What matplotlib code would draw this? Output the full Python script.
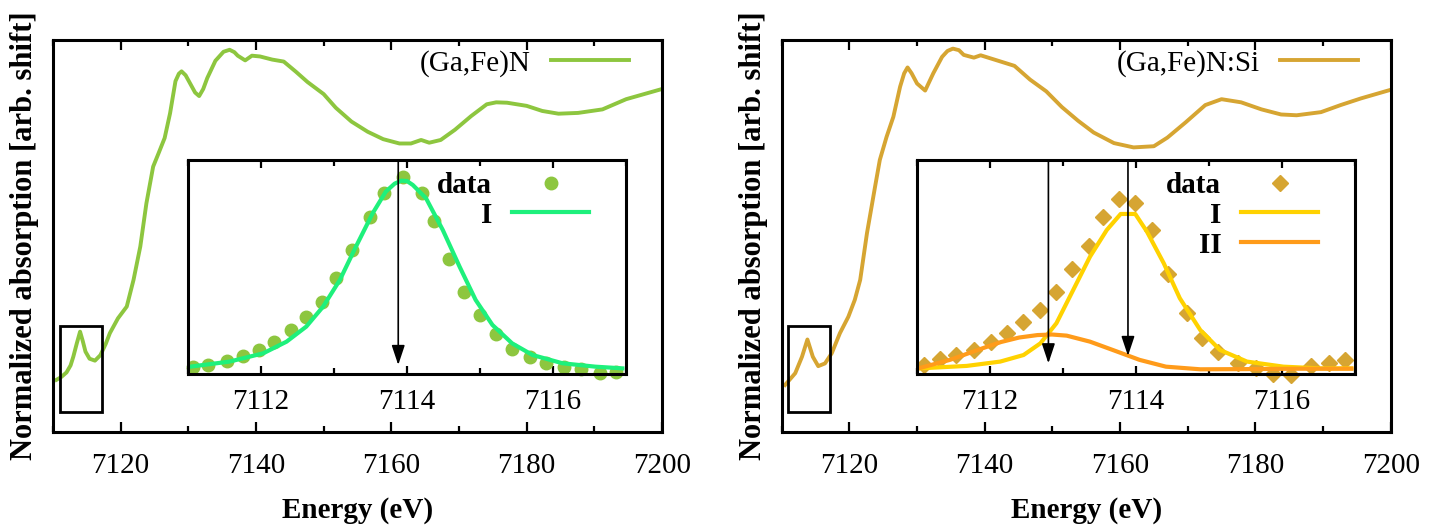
import numpy as np
import matplotlib.pyplot as plt
from matplotlib.ticker import MultipleLocator
from matplotlib.patches import Rectangle

plt.rcParams['font.family'] = ['Liberation Serif', 'DejaVu Serif']

# ---- XANES spectra (main panels), normalised absorption with arbitrary shift
e_gafen = [7110.5, 7111.2, 7112.0, 7112.6, 7113.0, 7113.5, 7114.0, 7114.4, 7114.8,
           7115.4, 7116.2, 7117.0, 7117.8, 7118.4, 7119.6, 7120.9, 7121.9, 7122.9,
           7123.8, 7124.8, 7125.6, 7126.5, 7127.3, 7128.1, 7128.6, 7129.0, 7129.6,
           7130.3, 7131.0, 7131.6, 7132.2, 7132.8, 7134.0, 7135.2, 7136.1, 7136.8,
           7137.3, 7138.4, 7139.4, 7140.6, 7142.4, 7144.1, 7145.9, 7147.6, 7150.0,
           7151.8, 7154.1, 7156.5, 7158.8, 7161.2, 7162.9, 7164.4, 7165.6, 7167.3,
           7169.4, 7171.8, 7174.1, 7175.5, 7177.1, 7180.0, 7182.3, 7184.7, 7187.6,
           7191.2, 7194.7, 7200.0]
mu_gafen = [0.133, 0.140, 0.152, 0.170, 0.192, 0.225, 0.256, 0.232, 0.205,
            0.187, 0.182, 0.196, 0.225, 0.252, 0.290, 0.320, 0.388, 0.473,
            0.583, 0.677, 0.711, 0.750, 0.813, 0.895, 0.914, 0.920, 0.910,
            0.888, 0.866, 0.857, 0.875, 0.903, 0.947, 0.970, 0.975, 0.969,
            0.960, 0.948, 0.960, 0.958, 0.950, 0.945, 0.919, 0.893, 0.862,
            0.827, 0.792, 0.766, 0.747, 0.736, 0.736, 0.745, 0.738, 0.745,
            0.771, 0.806, 0.836, 0.841, 0.840, 0.832, 0.819, 0.812, 0.814,
            0.823, 0.849, 0.875]

e_gafensi = [7110.5, 7112.0, 7113.0, 7113.8, 7114.6, 7115.4, 7116.4, 7117.4, 7118.6,
             7119.85, 7120.8, 7121.6, 7122.6, 7123.8, 7124.5, 7125.5, 7126.5, 7127.5,
             7128.1, 7128.6, 7129.2, 7130.0, 7131.2, 7132.4, 7133.7, 7134.5, 7135.3,
             7136.2, 7136.9, 7138.4, 7139.4, 7142.0, 7144.4, 7146.7, 7149.1, 7151.4,
             7153.8, 7156.1, 7159.1, 7162.0, 7165.0, 7167.0, 7169.7, 7172.6, 7175.0,
             7177.9, 7180.9, 7183.8, 7186.1, 7189.7, 7192.6, 7195.6, 7200.0]
mu_gafensi = [0.120, 0.150, 0.192, 0.236, 0.192, 0.168, 0.175, 0.201, 0.252,
              0.294, 0.337, 0.388, 0.507, 0.626, 0.694, 0.753, 0.804, 0.881,
              0.915, 0.930, 0.915, 0.889, 0.871, 0.915, 0.957, 0.972, 0.978,
              0.974, 0.962, 0.955, 0.961, 0.947, 0.934, 0.899, 0.869, 0.829,
              0.794, 0.764, 0.737, 0.726, 0.729, 0.751, 0.790, 0.834, 0.849,
              0.841, 0.823, 0.810, 0.808, 0.816, 0.834, 0.851, 0.873]

# ---- pre-edge peak (insets)
e_pre_gafen = [7111.07, 7111.28, 7111.53, 7111.76, 7111.97, 7112.18, 7112.41, 7112.61,
               7112.83, 7113.03, 7113.25, 7113.49, 7113.68, 7113.95, 7114.20, 7114.37,
               7114.58, 7114.78, 7115.00, 7115.22, 7115.44, 7115.69, 7115.91, 7116.15,
               7116.39, 7116.64, 7116.86]
pre_gafen = [0.007, 0.016, 0.039, 0.064, 0.096, 0.140, 0.202, 0.273,
             0.353, 0.480, 0.628, 0.805, 0.933, 1.015, 0.930, 0.779,
             0.578, 0.406, 0.282, 0.179, 0.099, 0.060, 0.028, 0.007,
             -0.007, -0.025, -0.020]

e_fit_gafen = [7111.03, 7111.57, 7112.03, 7112.35, 7112.62, 7112.85, 7113.08, 7113.30,
               7113.53, 7113.71, 7113.83, 7113.92, 7114.00, 7114.08, 7114.26, 7114.49,
               7114.72, 7114.94, 7115.17, 7115.44, 7115.72, 7116.13, 7116.58, 7116.95]
fitI_gafen = [0.007, 0.034, 0.078, 0.140, 0.220, 0.326, 0.468, 0.645,
              0.823, 0.938, 0.980, 0.996, 0.994, 0.973, 0.903, 0.734,
              0.539, 0.362, 0.229, 0.131, 0.069, 0.025, 0.007, -0.002]

e_pre_gafensi = [7111.09, 7111.32, 7111.54, 7111.78, 7112.01, 7112.23, 7112.45, 7112.69,
                 7112.90, 7113.13, 7113.35, 7113.55, 7113.77, 7113.98, 7114.22, 7114.44,
                 7114.70, 7114.91, 7115.13, 7115.40, 7115.64, 7115.88, 7116.13, 7116.40,
                 7116.65, 7116.86]
pre_gafensi = [0.016, 0.046, 0.069, 0.096, 0.137, 0.188, 0.243, 0.309,
               0.406, 0.527, 0.649, 0.805, 0.897, 0.876, 0.734, 0.500,
               0.291, 0.158, 0.087, 0.025, -0.002, -0.032, -0.037, 0.011,
               0.025, 0.043]

e_fitI_gafensi = [7111.04, 7111.68, 7112.14, 7112.46, 7112.69, 7112.91, 7113.14, 7113.37,
                  7113.60, 7113.79, 7113.99, 7114.15, 7114.38, 7114.60, 7114.88, 7115.15,
                  7115.52, 7116.02, 7116.52, 7116.95]
fitI_gafensi = [-0.002, 0.011, 0.034, 0.069, 0.131, 0.238, 0.415, 0.592,
                0.734, 0.819, 0.819, 0.725, 0.557, 0.371, 0.202, 0.096,
                0.034, 0.007, -0.002, -0.002]

e_fitII_gafensi = [7111.04, 7111.45, 7111.90, 7112.15, 7112.40, 7112.65, 7112.85, 7113.05,
                   7113.37, 7113.68, 7114.05, 7114.41, 7114.88, 7115.50, 7116.20, 7116.95]
fitII_gafensi = [0.000, 0.043, 0.105, 0.138, 0.162, 0.175, 0.178, 0.172,
                 0.140, 0.096, 0.043, 0.007, -0.007, -0.006, -0.004, -0.004]

# peak positions marked by arrows (energy, tip height)
arrows_gafen = [(7113.88, 0.016)]
arrows_gafensi = [(7112.80, 0.025), (7113.89, 0.064)]

c_gafen = '#8dc63f'
c_fit_gafen = '#1ef07c'
c_gafensi = '#d6a532'
c_fitI = '#ffd200'
c_fitII = '#ff9b1a'

FS = 21
fig = plt.figure(figsize=(14.29, 5.28), dpi=100)
W, H = 1429.0, 528.0


def main_axes(x0):
    ax = fig.add_axes([x0 / W, (H - 432) / H, 609 / W, 392 / H])
    ax.set_xlim(7110, 7200)
    ax.set_ylim(0, 1)
    ax.xaxis.set_major_locator(MultipleLocator(20))
    ax.xaxis.set_minor_locator(MultipleLocator(10))
    ax.set_yticks([])
    ax.tick_params(axis='x', which='both', direction='in', top=True, labelsize=FS, pad=15)
    ax.tick_params(axis='x', which='major', length=7, width=1.6)
    ax.tick_params(axis='x', which='minor', length=4, width=1.6)
    for s in ax.spines.values():
        s.set_linewidth(2.2)
    ax.set_xlabel('Energy (eV)', fontsize=FS, fontweight='bold', labelpad=13)
    ax.set_ylabel('Normalized absorption [arb. shift]', fontsize=22,
                  fontweight='bold', labelpad=10)
    ax.add_patch(Rectangle((7111.0, 0.052), 6.2, 0.218, fill=False,
                           ec='black', lw=2.0, zorder=3))
    return ax


def inset_axes(x0):
    ax = fig.add_axes([x0 / W, (H - 374) / H, 438 / W, 214 / H], zorder=5)
    ax.set_xlim(7111, 7117)
    ax.set_ylim(-0.032, 1.106)
    ax.xaxis.set_major_locator(MultipleLocator(2))
    ax.xaxis.set_minor_locator(MultipleLocator(1))
    ax.set_yticks([])
    ax.tick_params(axis='x', which='both', direction='in', top=True, labelsize=FS, pad=11)
    ax.tick_params(axis='x', which='major', length=6, width=1.6)
    ax.tick_params(axis='x', which='minor', length=4, width=1.6)
    for s in ax.spines.values():
        s.set_linewidth(2.2)
    return ax


def arrows(ax, lst):
    for x, tip in lst:
        ax.annotate('', xy=(x, tip), xytext=(x, 1.106),
                    arrowprops=dict(arrowstyle='-|>,head_length=0.6,head_width=0.2',
                                    color='black', lw=1.2, mutation_scale=20,
                                    shrinkA=0, shrinkB=0), zorder=6)


def inset_legend(ax):
    leg = ax.legend(loc='upper right', bbox_to_anchor=(0.916, 0.945), frameon=False,
                    markerfirst=False, fontsize=FS, handlelength=2.63, handletextpad=0.69,
                    borderpad=0, borderaxespad=0, labelspacing=0.1, numpoints=1)
    for t in leg.get_texts():
        t.set_fontweight('bold')


# ---------------- left: (Ga,Fe)N
ax1 = main_axes(53)
ax1.plot(e_gafen, mu_gafen, color=c_gafen, lw=2.8, label='(Ga,Fe)N')
ax1.legend(loc='center right', bbox_to_anchor=(0.946, 0.94), frameon=False,
           markerfirst=False, fontsize=FS, handlelength=2.67, handletextpad=0.69,
           borderpad=0, borderaxespad=0)

in1 = inset_axes(188)
in1.plot(e_pre_gafen, pre_gafen, 'o', color=c_gafen, ms=9, clip_on=False, label='data')
in1.plot(e_fit_gafen, fitI_gafen, color=c_fit_gafen, lw=3, label='I')
arrows(in1, arrows_gafen)
inset_legend(in1)

# ---------------- right: (Ga,Fe)N:Si
ax2 = main_axes(781.7)
ax2.plot(e_gafensi, mu_gafensi, color=c_gafensi, lw=2.8, label='(Ga,Fe)N:Si')
ax2.legend(loc='center right', bbox_to_anchor=(0.946, 0.94), frameon=False,
           markerfirst=False, fontsize=FS, handlelength=2.67, handletextpad=0.69,
           borderpad=0, borderaxespad=0)

in2 = inset_axes(917)
in2.plot(e_pre_gafensi, pre_gafensi, 'D', color=c_gafensi, ms=8, clip_on=False, label='data')
in2.plot(e_fitI_gafensi, fitI_gafensi, color=c_fitI, lw=3, label='I')
in2.plot(e_fitII_gafensi, fitII_gafensi, color=c_fitII, lw=3, label='II')
arrows(in2, arrows_gafensi)
inset_legend(in2)

fig.savefig('out.png', dpi=100)
